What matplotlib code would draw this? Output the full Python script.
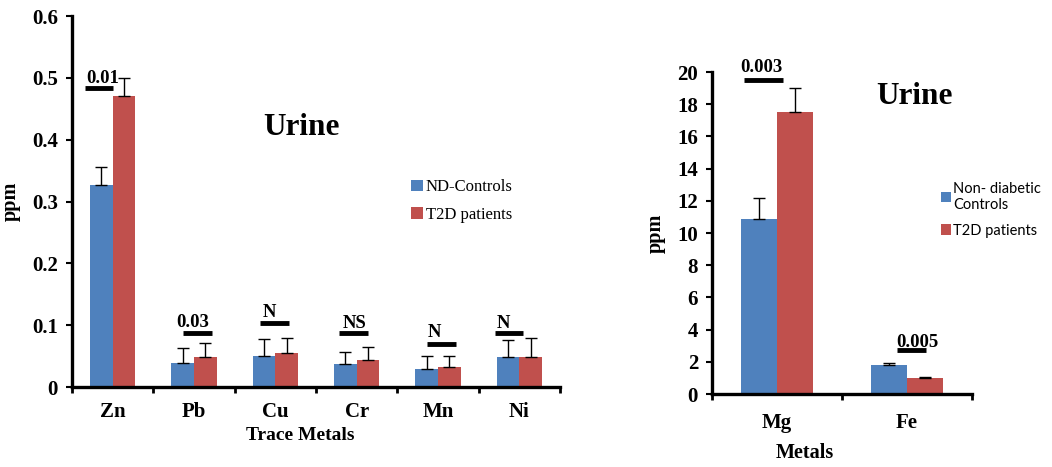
import numpy as np
import matplotlib
matplotlib.use("Agg")
import matplotlib.pyplot as plt

# left panel: trace metals in urine
trace_metals = ["Zn", "Pb", "Cu", "Cr", "Mn", "Ni"]
nd_controls = [0.327, 0.039, 0.050, 0.037, 0.029, 0.049]
nd_controls_err = [0.029, 0.024, 0.028, 0.020, 0.021, 0.027]
t2d_trace = [0.471, 0.049, 0.055, 0.043, 0.032, 0.049]
t2d_trace_err = [0.029, 0.022, 0.025, 0.022, 0.018, 0.031]
trace_sig = ["0.01", "0.03", "N", "NS", "N", "N"]

# right panel: metals in urine
metals = ["Mg", "Fe"]
nondiab = [10.9, 1.8]
nondiab_err = [1.3, 0.15]
t2d_metal = [17.5, 1.0]
t2d_metal_err = [1.5, 0.05]
metal_sig = ["0.003", "0.005"]

BLUE = "#4F81BD"
RED = "#C0504D"
serif = ["Liberation Serif", "DejaVu Serif"]
sans = ["Lato", "DejaVu Sans"]
W = 0.28

fig = plt.figure(figsize=(10.52, 4.67), dpi=100)


def style_axes(ax):
    for s in ["top", "right"]:
        ax.spines[s].set_visible(False)
    for s in ["left", "bottom"]:
        ax.spines[s].set_linewidth(2.4)
    ax.tick_params(axis="y", length=4, width=1.5, direction="out", pad=6)
    ax.tick_params(axis="x", which="major", length=0, pad=11)
    ax.tick_params(axis="x", which="minor", length=4, width=2, direction="out")
    for lab in ax.get_xticklabels() + ax.get_yticklabels():
        lab.set_family(serif)
        lab.set_fontweight("bold")
        lab.set_fontsize(15)


def draw_bars(ax, cats, a, a_err, b, b_err, la, lb):
    x = np.arange(len(cats))
    ekw = dict(ecolor="black", elinewidth=1.0, capsize=4, capthick=1.0)
    ax.bar(x - W / 2, a, W, color=BLUE, label=la,
           yerr=[np.zeros(len(a)), a_err], error_kw=ekw)
    ax.bar(x + W / 2, b, W, color=RED, label=lb,
           yerr=[np.zeros(len(b)), b_err], error_kw=ekw)
    ax.set_xlim(-0.5, len(cats) - 0.5)
    ax.set_xticks(x)
    ax.set_xticklabels(cats)
    ax.set_xticks(np.arange(len(cats) + 1) - 0.5, minor=True)
    return x


def sig_marks(ax, x, labels, line_y, text_y, l0, l1, tx):
    for i, lab in enumerate(labels):
        ax.plot([x[i] + l0[i], x[i] + l1[i]], [line_y[i], line_y[i]],
                color="black", lw=3.5, solid_capstyle="butt", clip_on=False)
        ax.text(x[i] + tx[i], text_y[i], lab, ha="center", va="baseline",
                family=serif, fontweight="bold", fontsize=13.5, clip_on=False)


# ---- left panel
ax1 = fig.add_axes([0.0684, 0.1713, 0.4639, 0.7944])
x1 = draw_bars(ax1, trace_metals, nd_controls, nd_controls_err,
               t2d_trace, t2d_trace_err, "ND-Controls", "T2D patients")
ax1.set_ylim(0, 0.6)
ax1.set_yticks(np.arange(0, 0.61, 0.1))
ax1.set_yticklabels(["0", "0.1", "0.2", "0.3", "0.4", "0.5", "0.6"])
style_axes(ax1)
sig_marks(ax1, x1, trace_sig,
          [0.484, 0.087, 0.104, 0.087, 0.070, 0.087],
          [0.492, 0.097, 0.113, 0.095, 0.081, 0.095],
          [-0.34, -0.14, -0.19, -0.22, -0.14, -0.30],
          [0.0, 0.22, 0.17, 0.14, 0.22, 0.05],
          [-0.12, -0.02, -0.07, -0.03, -0.04, -0.19])
ax1.text(0.47, 0.70, "Urine", transform=ax1.transAxes, ha="center", va="center",
         family=serif, fontweight="bold", fontsize=22.5)
ax1.set_ylabel("ppm", family=serif, fontweight="bold", fontsize=14.5, labelpad=8)
fig.text(0.285, 0.068, "Trace Metals", ha="center", va="center",
         family=serif, fontweight="bold", fontsize=14)
leg1 = ax1.legend(loc="upper left", bbox_to_anchor=(0.665, 0.60), frameon=False,
                  prop={"family": serif, "size": 12}, handlelength=0.7,
                  handleheight=0.7, handletextpad=0.15, labelspacing=0.7)

# ---- right panel
ax2 = fig.add_axes([0.6768, 0.1563, 0.2471, 0.6895])
x2 = draw_bars(ax2, metals, nondiab, nondiab_err, t2d_metal, t2d_metal_err,
               "Non- diabetic\nControls", "T2D patients")
ax2.set_ylim(0, 20)
ax2.set_yticks(np.arange(0, 21, 2))
style_axes(ax2)
ax2.tick_params(axis="x", which="major", pad=14)
sig_marks(ax2, x2, metal_sig,
          [19.5, 2.73],
          [20.0, 2.9],
          [-0.25, -0.08],
          [0.05, 0.15],
          [-0.12, 0.08])
ax2.text(0.78, 0.925, "Urine", transform=ax2.transAxes, ha="center", va="center",
         family=serif, fontweight="bold", fontsize=22.5)
ax2.set_ylabel("ppm", family=serif, fontweight="bold", fontsize=14.5, labelpad=8)
fig.text(0.765, 0.03, "Metals", ha="center", va="center",
         family=serif, fontweight="bold", fontsize=14.5)
leg2 = ax2.legend(loc="upper left", bbox_to_anchor=(0.83, 0.70), frameon=False,
                  prop={"family": sans, "size": 10.5}, handlelength=0.7,
                  handleheight=0.7, handletextpad=0.15, labelspacing=0.8)

fig.savefig("out.png", dpi=100)
